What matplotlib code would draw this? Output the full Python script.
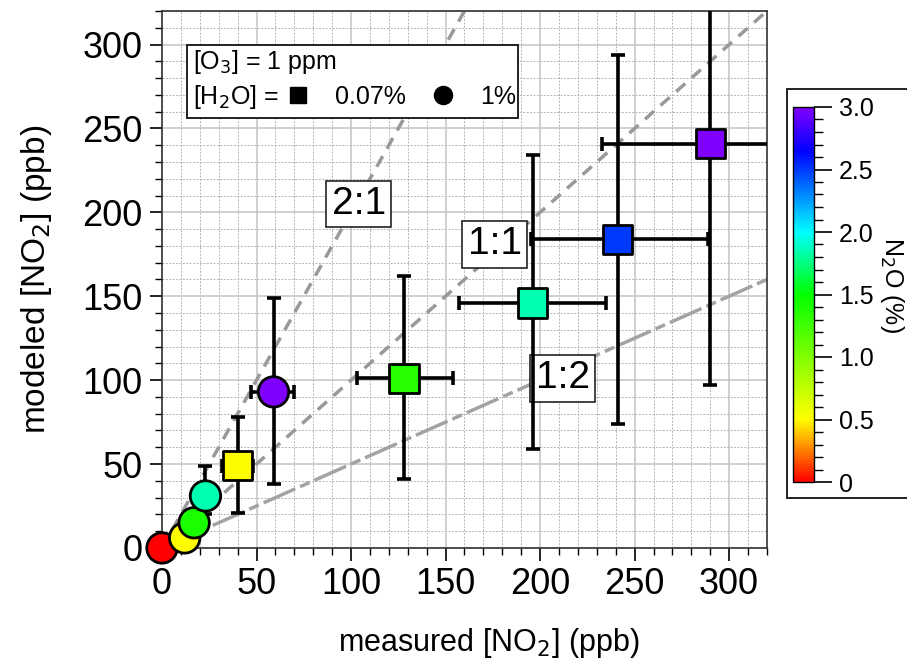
import numpy as np
import matplotlib
matplotlib.use('Agg')
import matplotlib.pyplot as plt
from matplotlib.colors import LinearSegmentedColormap, Normalize
from matplotlib.patches import Rectangle
from matplotlib.lines import Line2D

plt.rcParams['font.family'] = ['Liberation Sans', 'DejaVu Sans']

# squares: [H2O] = 0.07%
sq_x = [40, 128, 196, 241, 290]
sq_y = [49, 101, 146, 184, 241]
sq_xlo = [32, 103, 157, 195, 233]
sq_xhi = [48, 154, 235, 289, 348]
sq_ylo = [21, 41, 59, 74, 97]
sq_yhi = [78, 162, 234, 294, 385]
sq_n2o = [0.5, 1.35, 1.85, 2.5, 3.0]

# circles: [H2O] = 1%
ci_x = [0, 12, 17, 23, 59]
ci_y = [0, 6, 15, 31, 93]
ci_xlo = [0, 12, 17, 23, 47]
ci_xhi = [0, 12, 17, 23, 70]
ci_ylo = [0, 6, 15, 20, 38]
ci_yhi = [0, 6, 15, 49, 149]
ci_n2o = [0.0, 0.5, 1.4, 1.85, 3.0]

# reference ratio lines
ratios = [2.0, 1.0, 0.5]
ratio_labels = ['2:1', '1:1', '1:2']
ratio_styles = [(0, (3.5, 2.5)), (0, (3.5, 2.5)), (0, (10, 1.5, 3, 1.5))]
ratio_colors = ['#999999', '#999999', '#a3a3a3']
label_pos = [(104, 205), (176, 181), (212, 101)]

cb_ticks = [0, 0.5, 1.0, 1.5, 2.0, 2.5, 3.0]
cb_ticklabels = ['0', '0.5', '1.0', '1.5', '2.0', '2.5', '3.0']

# colormap like Igor rainbow (red -> purple)
cmap = LinearSegmentedColormap.from_list('rb', [
    (0.0, (1, 0, 0)),
    (0.5 / 3, (1, 1, 0)),
    (1.5 / 3, (0, 1, 0)),
    (2.0 / 3, (0, 1, 1)),
    (2.65 / 3, (0, 0, 1)),
    (1.0, (0.5, 0, 1)),
])
norm = Normalize(0, 3)

fig = plt.figure(figsize=(9.07, 6.65), dpi=100)

# colorbar frame (drawn first, behind everything)
fig.patches.append(Rectangle((787 / 907, 1 - 498 / 665), 0.2, 409 / 665,
                             transform=fig.transFigure, fc='white', ec='#222222',
                             lw=1.4, zorder=-1))

ax = fig.add_axes([0.1786, 0.176, 0.667, 0.8075])

ax.set_xlim(0, 320)
ax.set_ylim(0, 320)
ax.set_xticks(np.arange(0, 301, 50))
ax.set_yticks(np.arange(0, 301, 50))
ax.set_xticks(np.arange(0, 321, 10), minor=True)
ax.set_yticks(np.arange(0, 321, 10), minor=True)
ax.grid(which='major', color='#c8c8c8', lw=1.2, ls='-', zorder=0)
ax.grid(which='minor', color='#b4b4b4', lw=0.7, ls=(0, (2, 1.5)), zorder=0)
ax.set_axisbelow(True)
ax.tick_params(which='major', direction='out', length=9, width=1.2, labelsize=26, pad=5)
ax.tick_params(which='minor', direction='out', length=5, width=1.0)
for s in ax.spines.values():
    s.set_color('#333333')
    s.set_linewidth(1.2)

xs = np.array([0, 320])
for r, st, col in zip(ratios, ratio_styles, ratio_colors):
    ax.plot(xs, r * xs, color=col, lw=2.5, ls=st, zorder=2)

for lab, (lx, ly) in zip(ratio_labels, label_pos):
    ax.text(lx, ly, lab, fontsize=28, ha='center', va='center', zorder=3,
            bbox=dict(boxstyle='square,pad=0.14', fc='white', ec='#222222', lw=1.2))

def bars(x, y, xlo, xhi, ylo, yhi):
    x = np.array(x); y = np.array(y)
    xerr = [x - np.array(xlo), np.array(xhi) - x]
    yerr = [y - np.array(ylo), np.array(yhi) - y]
    ax.errorbar(x, y, xerr=xerr, yerr=yerr, fmt='none', ecolor='black',
                elinewidth=2.6, capsize=5, capthick=2.6, zorder=4)

bars(sq_x, sq_y, sq_xlo, sq_xhi, sq_ylo, sq_yhi)
bars(ci_x, ci_y, ci_xlo, ci_xhi, ci_ylo, ci_yhi)

ax.scatter(sq_x, sq_y, c=sq_n2o, cmap=cmap, norm=norm, marker='s', s=440,
           edgecolors='black', linewidths=2, zorder=5, clip_on=False)
ax.scatter(ci_x, ci_y, c=ci_n2o, cmap=cmap, norm=norm, marker='o', s=480,
           edgecolors='black', linewidths=2, zorder=5, clip_on=False)

ax.set_xlabel('measured [NO$_2$] (ppb)', fontsize=22)
ax.xaxis.set_label_coords(0.54, -0.145)
ax.set_ylabel('modeled [NO$_2$] (ppb)', fontsize=24, labelpad=20)

# legend box
ax.add_patch(Rectangle((0.041, 0.801), 0.547, 0.136, transform=ax.transAxes,
                       fc='white', ec='#222222', lw=1.4, zorder=6))
ax.text(0.052, 0.905, '[O$_3$] = 1 ppm', transform=ax.transAxes, fontsize=18,
        va='center', zorder=7)
ax.text(0.052, 0.840, '[H$_2$O] =', transform=ax.transAxes, fontsize=18,
        va='center', zorder=7)
ax.add_line(Line2D([0.225], [0.843], transform=ax.transAxes, marker='s', ms=12,
                   color='black', zorder=7))
ax.text(0.286, 0.840, '0.07%', transform=ax.transAxes, fontsize=18,
        va='center', zorder=7)
ax.add_line(Line2D([0.464], [0.843], transform=ax.transAxes, marker='o', ms=13,
                   color='black', zorder=7))
ax.text(0.526, 0.840, '1%', transform=ax.transAxes, fontsize=18,
        va='center', zorder=7)

# colorbar
cax = fig.add_axes([793 / 907, 1 - 482 / 665, 21 / 907, 375 / 665])
cax.set_zorder(3)
sm = plt.cm.ScalarMappable(norm=norm, cmap=cmap)
cb = fig.colorbar(sm, cax=cax, ticks=cb_ticks)
cb.ax.set_yticklabels(cb_ticklabels)
cb.ax.set_yticks(np.arange(0, 3.01, 0.1), minor=True)
cb.ax.tick_params(which='major', length=13, width=1.2, labelsize=18, pad=5)
cb.ax.tick_params(which='minor', length=6.5, width=1.0)
cb.outline.set_linewidth(1.0)
fig.text(892 / 907, 1 - 285 / 665, 'N$_2$O (%)', fontsize=18, rotation=270,
         ha='center', va='center', zorder=4)

fig.savefig('out.png', dpi=100)
